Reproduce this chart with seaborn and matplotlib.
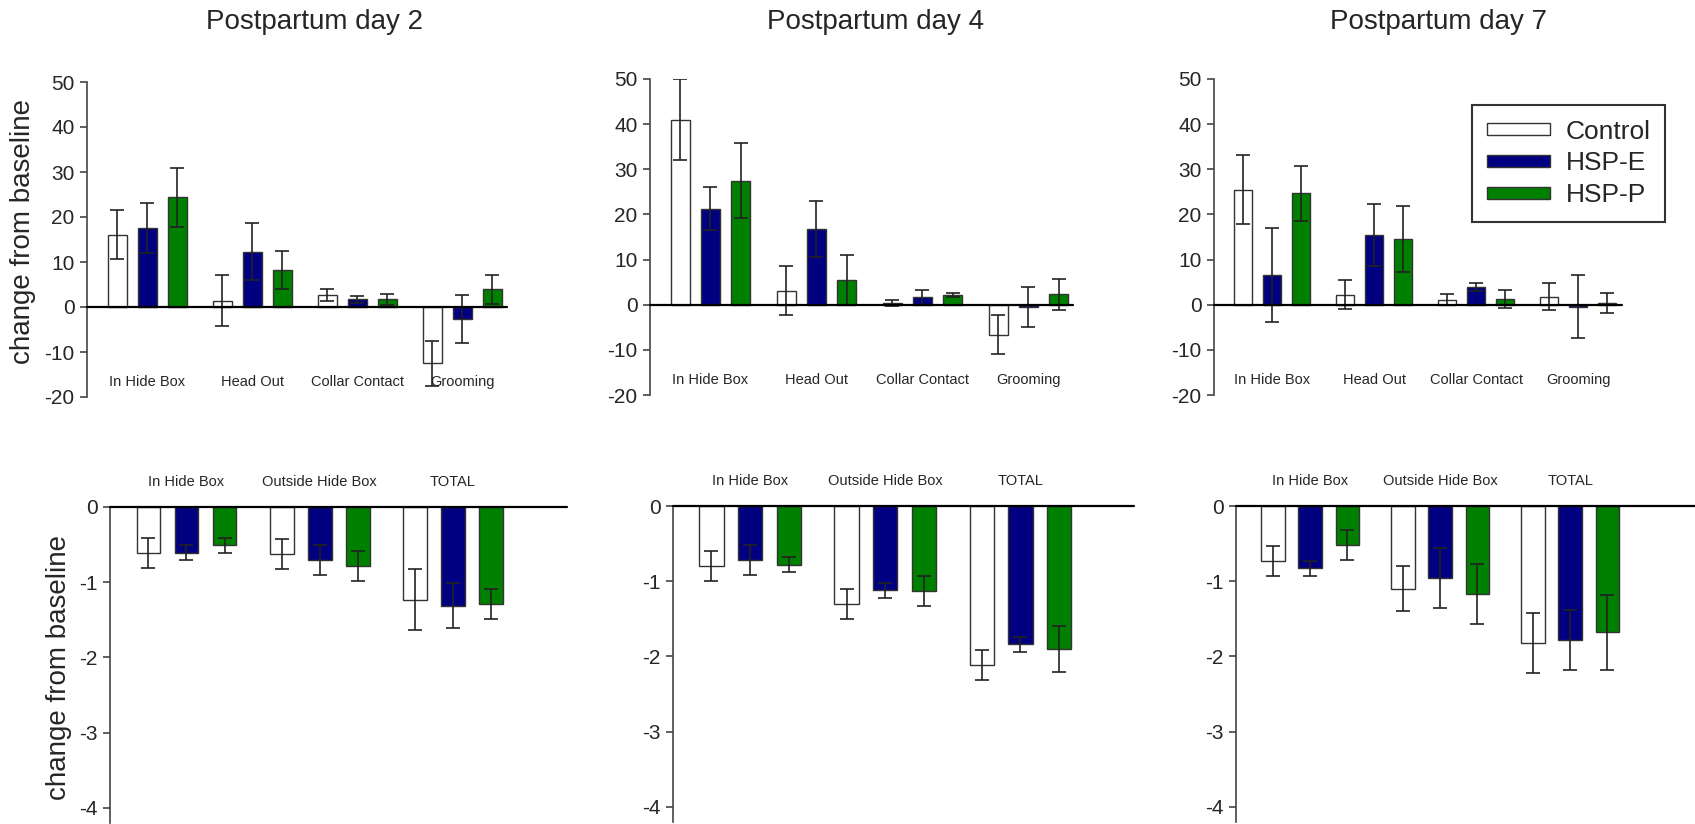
import numpy as np
import pandas as pd
import matplotlib
matplotlib.use("Agg")
import matplotlib.pyplot as plt
from matplotlib.container import BarContainer
import seaborn as sns

# ---------------- data ----------------
groups = ["Control", "HSP-E", "HSP-P"]
top_categories = ["In Hide Box", "Head Out", "Collar Contact", "Grooming"]
bottom_categories = ["In Hide Box", "Outside Hide Box", "TOTAL"]
titles = ["Postpartum day 2", "Postpartum day 4", "Postpartum day 7"]

day2_top_control = [16.1, 1.4, 2.7, -12.5]
day2_top_hspe = [17.6, 12.3, 1.7, -2.7]
day2_top_hspp = [24.4, 8.3, 1.7, 3.9]
day2_top_control_err = [5.5, 5.7, 1.3, 5.0]
day2_top_hspe_err = [5.6, 6.3, 0.7, 5.4]
day2_top_hspp_err = [6.6, 4.2, 1.2, 3.3]

day4_top_control = [41.0, 3.1, 0.4, -6.6]
day4_top_hspe = [21.3, 16.8, 1.6, -0.5]
day4_top_hspp = [27.5, 5.5, 2.1, 2.3]
day4_top_control_err = [8.9, 5.4, 0.6, 4.3]
day4_top_hspe_err = [4.7, 6.2, 1.6, 4.5]
day4_top_hspp_err = [8.4, 5.6, 0.4, 3.4]

day7_top_control = [25.5, 2.2, 1.1, 1.8]
day7_top_hspe = [6.6, 15.5, 4.0, -0.4]
day7_top_hspp = [24.7, 14.6, 1.3, 0.4]
day7_top_control_err = [7.6, 3.2, 1.2, 3.0]
day7_top_hspe_err = [10.4, 6.9, 0.9, 6.9]
day7_top_hspp_err = [6.1, 7.3, 2.0, 2.2]

day2_bot_control = [-0.61, -0.63, -1.23]
day2_bot_hspe = [-0.61, -0.70, -1.31]
day2_bot_hspp = [-0.51, -0.79, -1.29]
day2_bot_control_err = [0.2, 0.2, 0.4]
day2_bot_hspe_err = [0.1, 0.2, 0.3]
day2_bot_hspp_err = [0.1, 0.2, 0.2]

day4_bot_control = [-0.80, -1.30, -2.11]
day4_bot_hspe = [-0.72, -1.12, -1.84]
day4_bot_hspp = [-0.78, -1.13, -1.90]
day4_bot_control_err = [0.2, 0.2, 0.2]
day4_bot_hspe_err = [0.2, 0.1, 0.1]
day4_bot_hspp_err = [0.1, 0.2, 0.3]

day7_bot_control = [-0.73, -1.10, -1.82]
day7_bot_hspe = [-0.83, -0.96, -1.78]
day7_bot_hspp = [-0.52, -1.17, -1.68]
day7_bot_control_err = [0.2, 0.3, 0.4]
day7_bot_hspe_err = [0.1, 0.4, 0.4]
day7_bot_hspp_err = [0.2, 0.4, 0.5]

top_values = [
    (day2_top_control, day2_top_hspe, day2_top_hspp),
    (day4_top_control, day4_top_hspe, day4_top_hspp),
    (day7_top_control, day7_top_hspe, day7_top_hspp),
]
top_errors = [
    (day2_top_control_err, day2_top_hspe_err, day2_top_hspp_err),
    (day4_top_control_err, day4_top_hspe_err, day4_top_hspp_err),
    (day7_top_control_err, day7_top_hspe_err, day7_top_hspp_err),
]
bot_values = [
    (day2_bot_control, day2_bot_hspe, day2_bot_hspp),
    (day4_bot_control, day4_bot_hspe, day4_bot_hspp),
    (day7_bot_control, day7_bot_hspe, day7_bot_hspp),
]
bot_errors = [
    (day2_bot_control_err, day2_bot_hspe_err, day2_bot_hspp_err),
    (day4_bot_control_err, day4_bot_hspe_err, day4_bot_hspp_err),
    (day7_bot_control_err, day7_bot_hspe_err, day7_bot_hspp_err),
]

# ---------------- style ----------------
sns.set_theme(style="white")
plt.rcParams["font.family"] = ["Liberation Sans", "DejaVu Sans"]
plt.rcParams["axes.unicode_minus"] = False

palette = {"Control": "#FFFFFF", "HSP-E": "#000080", "HSP-P": "#008000"}
SPINE = "#444444"

W, H = 1695, 824
fig = plt.figure(figsize=(W / 100, H / 100), dpi=100)


def px_axes(left, right, top, bottom):
    return fig.add_axes([left / W, 1 - bottom / H, (right - left) / W, (bottom - top) / H])


def make_df(cats, vals):
    rows = []
    for g, v in zip(groups, vals):
        for c, y in zip(cats, v):
            rows.append({"behavior": c, "group": g, "value": y})
    return pd.DataFrame(rows)


def bar_containers(ax):
    return [c for c in ax.containers if isinstance(c, BarContainer)]


def draw_panel(ax, cats, vals, errs, ylim, xlim, yticks, label_y):
    df = make_df(cats, vals)
    sns.barplot(data=df, x="behavior", y="value", hue="group", order=cats,
                hue_order=groups, palette=palette, saturation=1, width=0.857,
                gap=0.37, errorbar=None, edgecolor="#333333", linewidth=1.0,
                legend=False, ax=ax)
    for cont, v, e in zip(list(bar_containers(ax)), vals, errs):
        xs = [b.get_x() + b.get_width() / 2 for b in cont]
        ax.errorbar(xs, v, yerr=e, fmt="none", ecolor="#222222", elinewidth=1.2,
                    capsize=5, capthick=1.2, zorder=4)
    ax.axhline(0, color="black", lw=1.6, zorder=5, clip_on=False)
    ax.set_ylim(*ylim)
    ax.set_xlim(*xlim)
    ax.set_yticks(yticks)
    ax.set_yticklabels([str(t) for t in yticks], fontsize=15)
    ax.set_xticks([])
    ax.set_xlabel("")
    ax.set_ylabel("")
    for s in ["top", "right", "bottom"]:
        ax.spines[s].set_visible(False)
    ax.spines["left"].set_color(SPINE)
    ax.spines["left"].set_linewidth(1.2)
    ax.tick_params(axis="y", direction="out", length=5, width=1.2, color=SPINE,
                   pad=4, left=True)
    ax.set_facecolor("none")
    for i, c in enumerate(cats):
        ax.text(i, label_y, c, ha="center", va="center", fontsize=10.5,
                clip_on=False)


top_boxes = [(87, 507, 82, 397), (650, 1073, 79, 395), (1214, 1622, 79, 395)]
bot_boxes = [(110, 567, 507, 823), (673, 1134, 506, 822), (1236, 1695, 506, 822)]
top_xlims = [(-0.575, 3.425), (-0.57, 3.42), (-0.57, 3.43)]
bot_xlims = [(-0.575, 2.86), (-0.57, 2.84), (-0.57, 2.96)]

top_axes = []
for k in range(3):
    ax = px_axes(*top_boxes[k])
    draw_panel(ax, top_categories, top_values[k], top_errors[k], (-20, 50),
               top_xlims[k], [-20, -10, 0, 10, 20, 30, 40, 50], -16.6)
    top_axes.append(ax)

bot_axes = []
for k in range(3):
    ax = px_axes(*bot_boxes[k])
    draw_panel(ax, bottom_categories, bot_values[k], bot_errors[k], (-4.2, 0),
               bot_xlims[k], [-4, -3, -2, -1, 0], 0.33)
    bot_axes.append(ax)

# titles
for t, cx in zip(titles, [315, 876, 1438]):
    fig.text(cx / W, 1 - 22 / H, t, ha="center", va="center", fontsize=20)

# y labels
fig.text(23 / W, 1 - 232 / H, "change from baseline", rotation=90, ha="center",
         va="center", fontsize=20)
fig.text(59 / W, 1 - 668 / H, "change from baseline", rotation=90, ha="center",
         va="center", fontsize=20)

# legend
handles = [c.patches[0] for c in bar_containers(top_axes[2])]
leg = fig.legend(handles, groups, loc="upper left",
                 bbox_to_anchor=(1472 / W, 1 - 105 / H), fontsize=19,
                 frameon=True, fancybox=False, edgecolor="black",
                 handlelength=2.4, handleheight=0.3, handletextpad=0.6,
                 labelspacing=0.3, borderpad=0.55, borderaxespad=0)
leg.get_frame().set_linewidth(1.5)

fig.savefig("out.png", dpi=100, facecolor="white")
